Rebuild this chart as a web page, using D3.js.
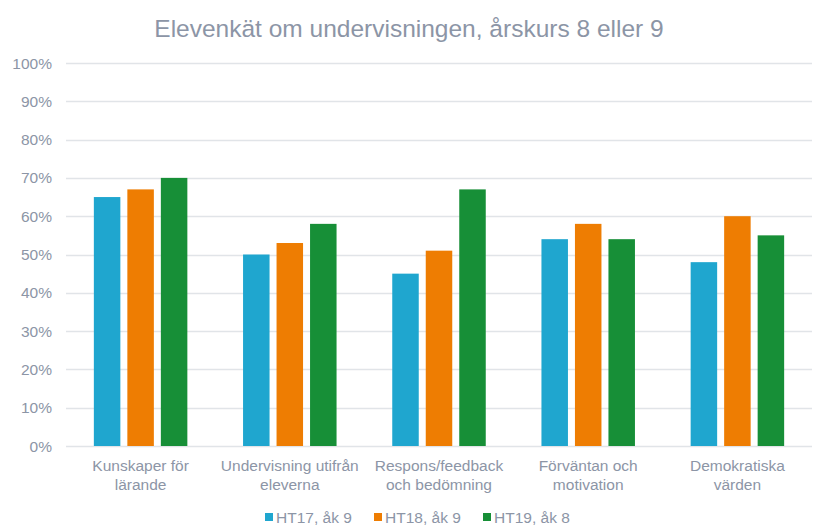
<!DOCTYPE html>
<html lang="sv">
<head>
    <meta charset="utf-8">
    <title>Elevenkät om undervisningen</title>
    <style>
        body{
            margin: 0;
            background: #fff;
        }
        text{
            font-family: Arial, "Liberation Sans", sans-serif;
            fill: #8c95a6;
        }
    </style>
</head>
<body>
    <script src="https://cdnjs.cloudflare.com/ajax/libs/d3/7.9.0/d3.min.js"></script>
    <script>

    const categories = [
        ["Kunskaper för", "lärande"],
        ["Undervisning utifrån", "eleverna"],
        ["Respons/feedback", "och bedömning"],
        ["Förväntan och", "motivation"],
        ["Demokratiska", "värden"]
    ];
    const seriesNames = ["HT17, åk 9", "HT18, åk 9", "HT19, åk 8"];
    const ht17 = [65, 50, 45, 54, 48];
    const ht18 = [67, 53, 51, 58, 60];
    const ht19 = [70, 58, 67, 54, 55];
    const colors = ["#1fa6cf", "#ee7d02", "#178f37"];
    const yTicks = [0, 10, 20, 30, 40, 50, 60, 70, 80, 90, 100];

    const width = 816;
    const height = 527;
    const margin = {top: 63, right: 4, bottom: 81, left: 66};

    const svg = d3.select("body")
        .append("svg")
        .attr("width", width)
        .attr("height", height);

    const keys = categories.map(c => c.join(" "));
    const series = [ht17, ht18, ht19];

    const x = d3.scaleBand()
        .domain(keys)
        .range([margin.left, width - margin.right])
        .paddingInner(0)
        .paddingOuter(0);

    const barStep = 33.5;
    const barWidth = 26.5;

    const y = d3.scaleLinear()
        .domain([0, 100])
        .range([height - margin.bottom, margin.top]);

    svg.append("text")
        .attr("x", width / 2 + 1)
        .attr("y", 37)
        .attr("text-anchor", "middle")
        .style("font-size", "24.5px")
        .text("Elevenkät om undervisningen, årskurs 8 eller 9");

    // gridlines
    svg.append("g")
        .selectAll("line")
        .data(yTicks)
        .enter()
        .append("line")
        .attr("x1", margin.left)
        .attr("x2", width - margin.right)
        .attr("y1", d => Math.round(y(d)) + 0.5)
        .attr("y2", d => Math.round(y(d)) + 0.5)
        .attr("stroke", "#e1e4e8")
        .attr("stroke-width", 1.5);

    svg.append("g")
        .selectAll("text")
        .data(yTicks)
        .enter()
        .append("text")
        .attr("x", 52)
        .attr("y", d => y(d) + 5.5)
        .attr("text-anchor", "end")
        .style("font-size", "15.5px")
        .text(d => d + "%");

    series.forEach((vals, s) => {
        svg.append("g")
            .selectAll("rect")
            .data(vals)
            .enter()
            .append("rect")
            .attr("x", (d, i) => x(keys[i]) + x.bandwidth() / 2 + (s - 1) * barStep - barWidth / 2)
            .attr("y", d => y(d))
            .attr("width", barWidth)
            .attr("height", d => y(0) - y(d))
            .attr("fill", colors[s]);
    });

    const labels = svg.append("g")
        .selectAll("text")
        .data(categories)
        .enter()
        .append("text")
        .attr("x", (d, i) => x(keys[i]) + x.bandwidth() / 2)
        .attr("y", 471)
        .attr("text-anchor", "middle")
        .style("font-size", "15.5px");

    labels.selectAll("tspan")
        .data(d => d)
        .enter()
        .append("tspan")
        .attr("x", function() { return d3.select(this.parentNode).attr("x"); })
        .attr("dy", (d, i) => i === 0 ? 0 : 19)
        .text(d => d);

    // legend
    const legendX = [265, 374, 483];
    const legend = svg.append("g");
    seriesNames.forEach((name, i) => {
        legend.append("rect")
            .attr("x", legendX[i])
            .attr("y", 513)
            .attr("width", 8)
            .attr("height", 8)
            .attr("fill", colors[i]);
        legend.append("text")
            .attr("x", legendX[i] + 11)
            .attr("y", 522.5)
            .style("font-size", "15.5px")
            .text(name);
    });

    </script>
</body>
</html>
